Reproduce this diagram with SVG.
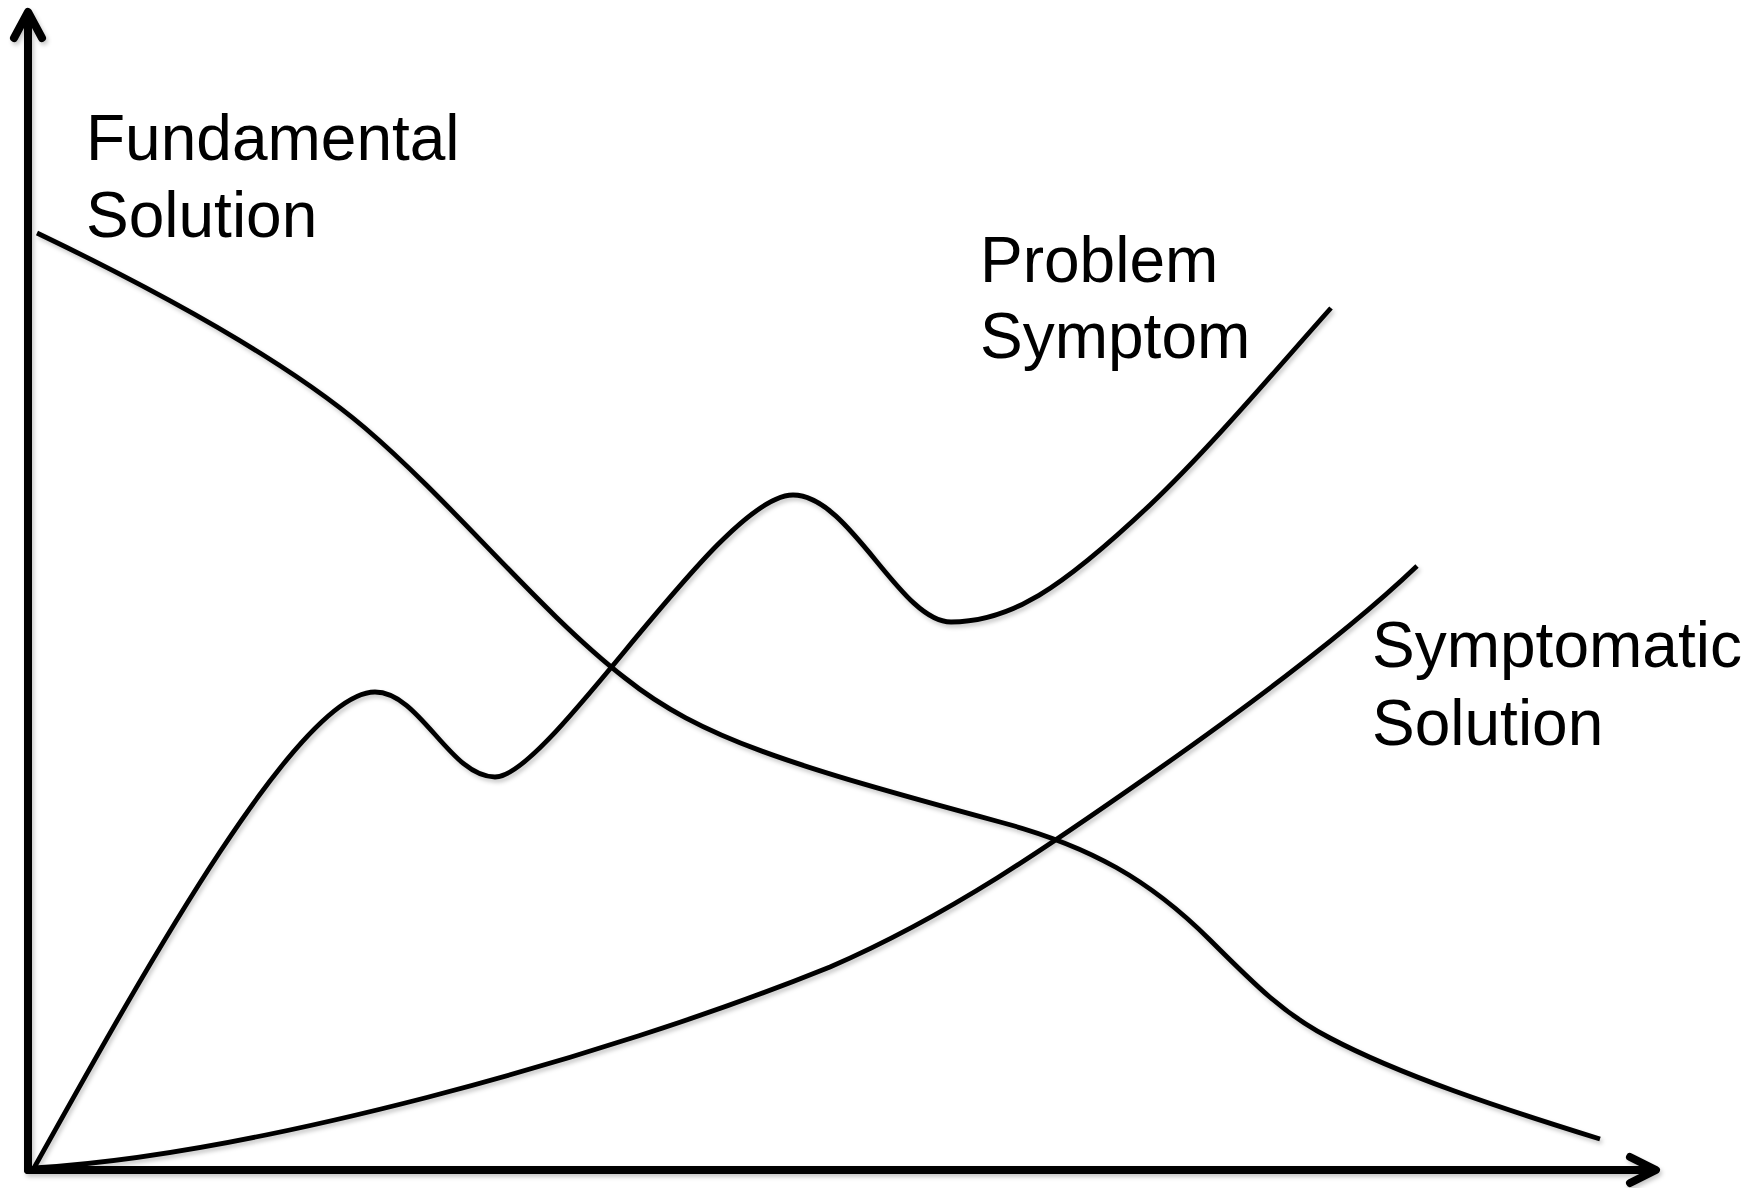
<svg xmlns="http://www.w3.org/2000/svg" width="1764" height="1188" viewBox="0 0 1764 1188">
  <defs>
    <filter id="sh" x="-5%" y="-5%" width="110%" height="110%">
      <feDropShadow dx="2" dy="3" stdDeviation="2" flood-color="#000" flood-opacity="0.22"/>
    </filter>
    <style>
      .axis { fill: none; stroke: #000; stroke-width: 8; stroke-linecap: round; stroke-linejoin: round; }
      .curve { fill: none; stroke: #000; stroke-width: 4.8; stroke-linecap: butt; stroke-linejoin: round; }
      .lbl { font-family: "Liberation Sans", Arial, sans-serif; font-size: 64px; fill: #000; }
    </style>
  </defs>
  <rect width="1764" height="1188" fill="#fff"/>
  <g id="connectors" filter="url(#sh)">
    <g id="axes">
      <path class="axis" d="M28,1170 L28,14 M14,38 L28,12 L42,38"/>
      <path class="axis" d="M28,1170 L1654,1170 M1630,1157 L1656,1170 L1630,1183"/>
    </g>
    <path id="fundamental-curve" class="curve" d="M37,233 C160,292 285,360 365,428 C455,505 540,612 625,678 C700,738 790,765 1000,822 C1090,846 1150,880 1210,940 C1255,985 1285,1015 1330,1038 C1400,1075 1500,1108 1600,1139"/>
    <path id="problem-curve" class="curve" d="M34,1168 C150,960 300,692 375,692 C420,692 450,777 495,777 C550,777 720,495 793,495 C850,495 900,622 951,622 C1010,622 1060,590 1150,505 C1210,448 1280,365 1331,308"/>
    <path id="symptomatic-curve" class="curve" d="M34,1168 C250,1155 600,1060 830,967 C950,915 1050,845 1150,775 C1250,705 1350,630 1417,566"/>
  </g>
  <g id="label-fundamental">
    <text class="lbl" x="86" y="160">Fundamental</text>
    <text class="lbl" x="86" y="237">Solution</text>
  </g>
  <g id="label-problem">
    <text class="lbl" x="980" y="282">Problem</text>
    <text class="lbl" x="980" y="358">Symptom</text>
  </g>
  <g id="label-symptomatic">
    <text class="lbl" x="1372" y="667">Symptomatic</text>
    <text class="lbl" x="1372" y="745">Solution</text>
  </g>
</svg>
